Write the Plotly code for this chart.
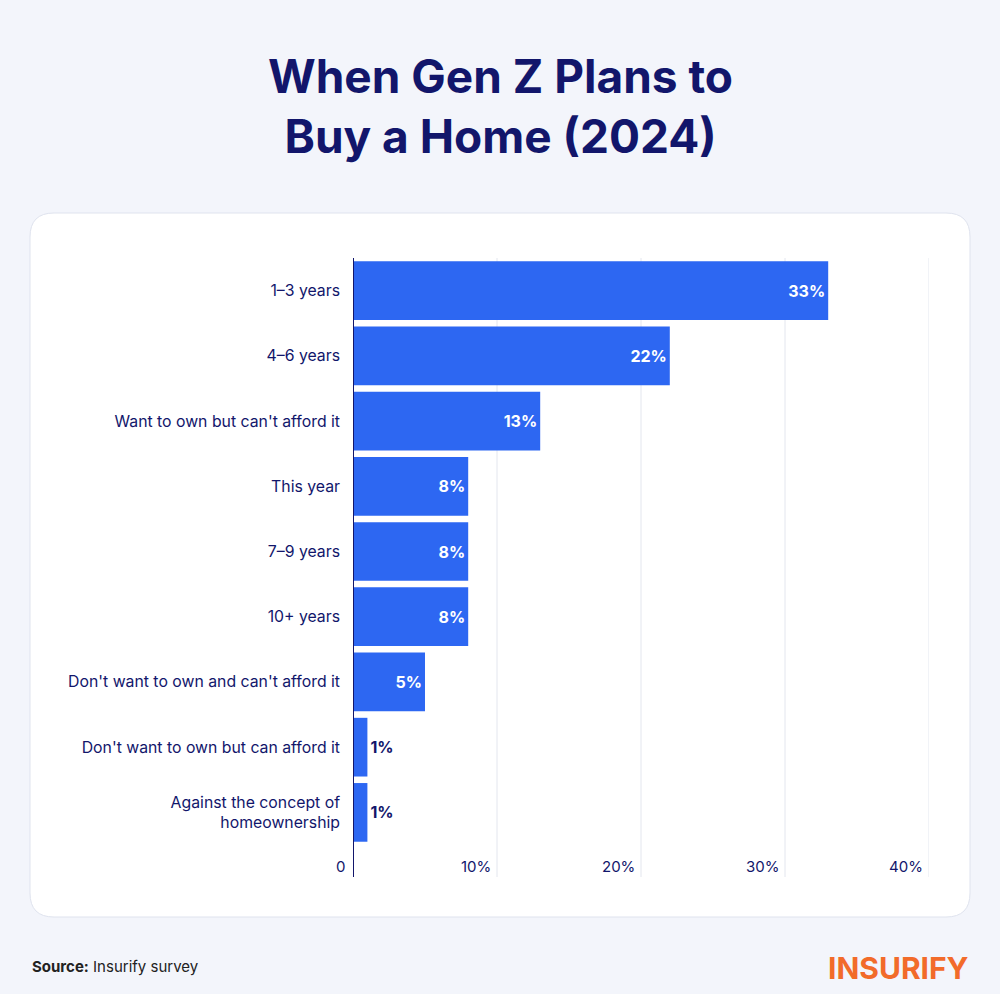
import plotly.graph_objects as go

categories = ["1–3 years", "4–6 years", "Want to own but can't afford it", "This year",
              "7–9 years", "10+ years", "Don't want to own and can't afford it",
              "Don't want to own but can afford it", "Against the concept of<br>homeownership"]
values = [33, 22, 13, 8, 8, 8, 5, 1, 1]
x_ticks = [10, 20, 30, 40]
tick_labels = ["10%", "20%", "30%", "40%"]

NAVY = "#12166b"
BLUE = "#2d67f2"
FONT = "Inter"
W, H = 1000, 994

inside = [v >= 3 for v in values]
fig = go.Figure(go.Bar(
    x=values, y=categories, orientation="h", width=0.9,
    marker=dict(color=BLUE, line=dict(width=0)),
    text=[f"<b>{v}%</b>" for v in values],
    textposition=["inside" if i else "outside" for i in inside],
    insidetextanchor="end",
    textfont=dict(family=FONT, size=16, color=["white" if i else NAVY for i in inside]),
    cliponaxis=False,
))

x0, x1, yt, yb, r = 30, 970, 213, 917, 24
def px(x): return x / W
def py(y): return 1 - y / H
card = (f"M {px(x0+r)},{py(yt)} L {px(x1-r)},{py(yt)} Q {px(x1)},{py(yt)} {px(x1)},{py(yt+r)} "
        f"L {px(x1)},{py(yb-r)} Q {px(x1)},{py(yb)} {px(x1-r)},{py(yb)} "
        f"L {px(x0+r)},{py(yb)} Q {px(x0)},{py(yb)} {px(x0)},{py(yb-r)} "
        f"L {px(x0)},{py(yt+r)} Q {px(x0)},{py(yt)} {px(x0+r)},{py(yt)} Z")
shapes = [dict(type="path", xref="paper", yref="paper", path=card, fillcolor="white",
               line=dict(color="#dfe3ee", width=1), layer="below")]
for t in x_ticks:
    shapes.append(dict(type="line", xref="x", yref="paper", x0=t, x1=t,
                       y0=py(877), y1=py(258), line=dict(color="#e3e6ee", width=1), layer="below"))
shapes.append(dict(type="line", xref="x", yref="paper", x0=0, x1=0,
                   y0=py(877), y1=py(258), line=dict(color=NAVY, width=2)))

annotations = [dict(text="<b>When Gen Z Plans to<br>Buy a Home (2024)</b>", x=0.5, y=py(106),
                    xref="paper", yref="paper", yanchor="middle", showarrow=False,
                    font=dict(family=FONT, size=46, color=NAVY))]
for t, lab in zip(x_ticks, tick_labels):
    annotations.append(dict(text=lab, x=t, xref="x", y=py(866), yref="paper", yanchor="middle",
                            xanchor="right", xshift=-4, showarrow=False,
                            font=dict(family=FONT, size=15, color=NAVY)))
annotations.append(dict(text="0", x=0, xref="x", y=py(866), yref="paper", yanchor="middle",
                        xanchor="right", xshift=-6, showarrow=False,
                        font=dict(family=FONT, size=15, color=NAVY)))
annotations.append(dict(text="<b>Source:</b> Insurify survey", x=px(30), y=py(966),
                        xref="paper", yref="paper", xanchor="left", yanchor="middle", showarrow=False,
                        font=dict(family=FONT, size=15, color="#222")))
annotations.append(dict(text="<b>INSURIFY</b>", x=px(971), y=py(968),
                        xref="paper", yref="paper", xanchor="right", yanchor="middle", showarrow=False,
                        font=dict(family=FONT, size=30, color="#f26b2a")))

fig.update_layout(
    width=W, height=H, margin=dict(l=0, r=0, t=0, b=0),
    paper_bgcolor="#f3f5fb", plot_bgcolor="rgba(0,0,0,0)",
    showlegend=False, shapes=shapes, annotations=annotations,
    xaxis=dict(domain=[0.353, 0.929], range=[0, 40], showgrid=False, zeroline=False,
               showticklabels=False, fixedrange=True),
    yaxis=dict(domain=[py(845), py(258)], autorange="reversed", showgrid=False,
               tickfont=dict(family=FONT, size=15.8, color=NAVY), ticklabelstandoff=12,
               ticks=""),
    font=dict(family=FONT),
)
fig.write_html("out.html", config={"displayModeBar": False})
with open("out.html", encoding="utf-8") as f:
    html = f.read()
html = html.replace("<head>", "<head><style>html,body{margin:0;padding:0;background:#f3f5fb;}</style>", 1)
with open("out.html", "w", encoding="utf-8") as f:
    f.write(html)
